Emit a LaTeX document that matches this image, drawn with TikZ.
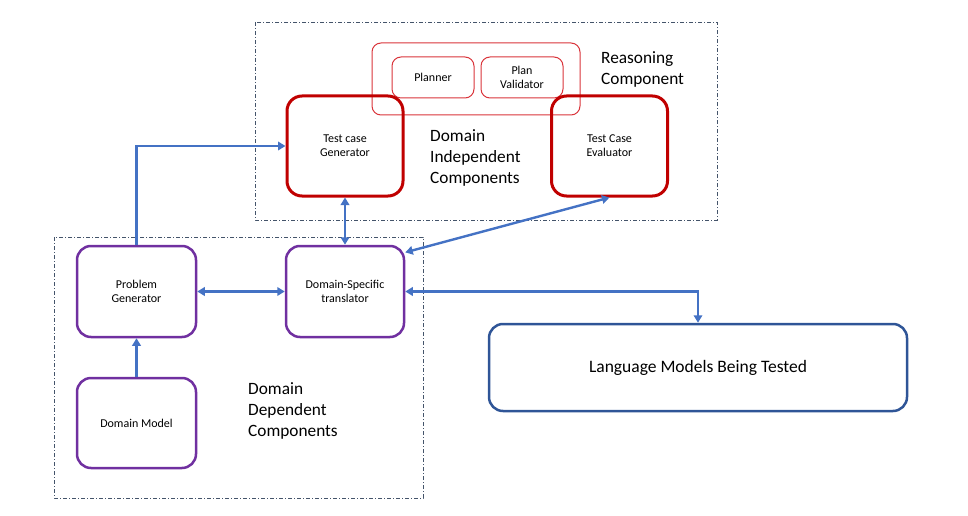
\documentclass[tikz,border=0pt]{standalone}
\usepackage{fontspec}
\setmainfont{Carlito}
\usetikzlibrary{arrows.meta,positioning}
\definecolor{boxred}{HTML}{C00000}
\definecolor{softred}{HTML}{D9343A}
\definecolor{boxpurple}{HTML}{7030A0}
\definecolor{linkblue}{HTML}{4472C4}
\definecolor{lmblue}{HTML}{2F5597}
\definecolor{frame}{HTML}{44546A}

\begin{document}
\begin{tikzpicture}[x=1pt, y=-1pt,
      font=\fontsize{12}{14}\selectfont,
      redbox/.style={draw=boxred, line width=3pt, rounded corners=15pt,
                     minimum width=116pt, minimum height=100pt, align=center, inner sep=0pt},
      thinred/.style={draw=softred, line width=1pt, rounded corners=9pt,
                      minimum width=82pt, minimum height=41pt, align=center, inner sep=0pt},
      purplebox/.style={draw=boxpurple, line width=2.5pt, rounded corners=14pt,
                        minimum width=119pt, minimum height=91pt, align=center, inner sep=0pt},
      framebox/.style={draw=frame, line width=0.8pt,
                       dash pattern=on 4pt off 2pt on 1pt off 2pt},
      biglabel/.style={font=\fontsize{17.3}{21}\selectfont, align=left, anchor=north west, inner sep=0pt},
      link/.style={draw=linkblue, line width=2.4pt,
                   -{Triangle[width=8.5pt,length=7.5pt]}},
      twoway/.style={link, {Triangle[width=8.5pt,length=7.5pt]}-{Triangle[width=8.5pt,length=7.5pt]}}]
      \useasboundingbox (0,0) rectangle (968,516);
      % dash-dot frames
      \draw[framebox] (255, 22) rectangle (717, 220);
      \draw[framebox] (54, 237) rectangle (423, 498);
      % reasoning component
      \node[thinred, minimum width=208pt, minimum height=72pt] (reason) at (476, 79) {};
      \node[thinred] (planner) at (433, 77.5) {Planner};
      \node[thinred] (validator) at (522, 77.5) {Plan\\Validator};
      \node[biglabel] (reasonlabel) at (601, 51) {Reasoning\\Component};
      % domain independent components
      \node[redbox] (tcg) at (345, 146) {Test case\\Generator};
      \node[redbox] (tce) at (609.5, 146) {Test Case\\Evaluator};
      \node[biglabel] (indeplabel) at (430, 129) {Domain\\Independent\\Components};
      % domain dependent components
      \node[purplebox] (pg) at (136.5, 291.5) {Problem\\Generator};
      \node[purplebox, minimum width=118pt] (dst) at (345, 291.5) {Domain-Specific\\translator};
      \node[purplebox, minimum height=90pt] (dm) at (136.5, 423) {Domain Model};
      \node[biglabel] (deplabel) at (248, 382) {Domain\\Dependent\\Components};
      % language models
      \node[draw=lmblue, line width=2.5pt, rounded corners=14pt, minimum width=418pt,
            minimum height=87pt, font=\fontsize{17.5}{20}\selectfont] (lm) at (698, 367.5)
            {Language Models Being Tested};
      % connectors
      \draw[link] (pg.north) |- (tcg.west);
      \draw[twoway] (tcg.south) -- (dst.north);
      \draw[twoway] (dst.33) -- (tce.south);
      \draw[twoway] (pg.east) -- (dst.west);
      \draw[twoway] (dst.east) -| (lm.north);
      \draw[link] (dm.north) -- (pg.south);
\end{tikzpicture}
\end{document}
